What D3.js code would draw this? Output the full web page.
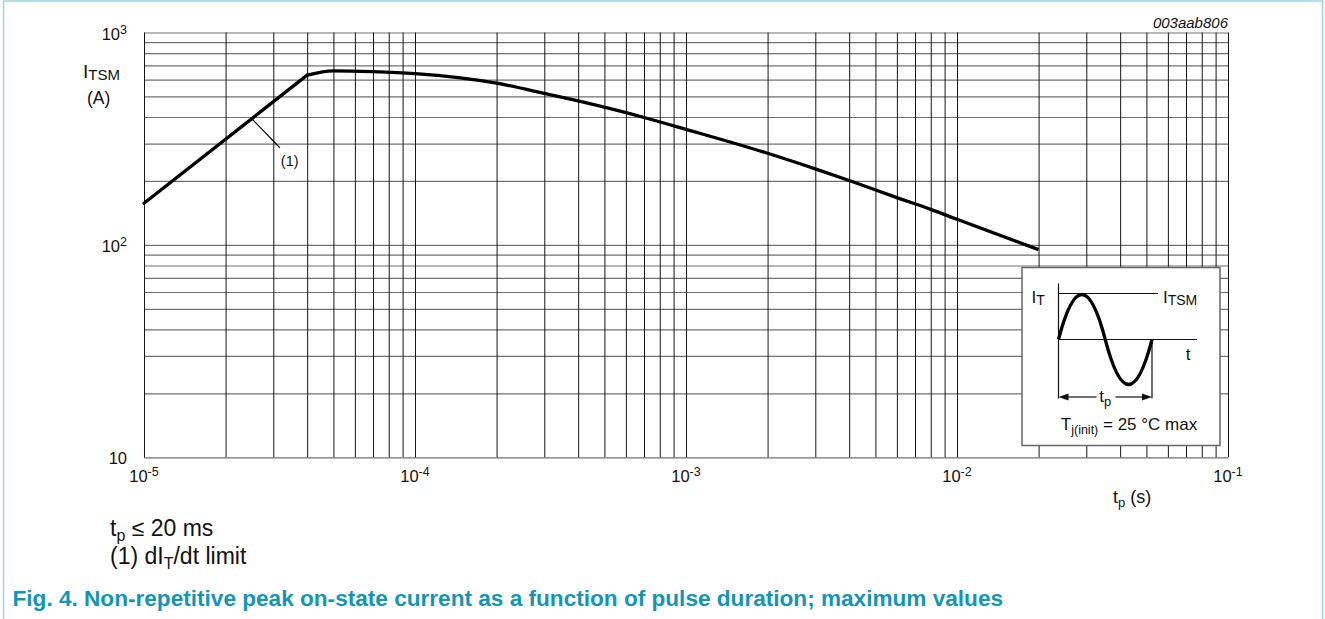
<!DOCTYPE html>
<html lang="en">
<head>
<meta charset="utf-8">
<title>ITSM vs tp</title>
<script src="https://cdn.jsdelivr.net/npm/d3@7/dist/d3.min.js"></script>
<style type="text/css">
  body { margin: 0; background: #ffffff; }
  svg { display: block; font-family: "Liberation Sans", Arial, sans-serif; }
  .vgrid line { stroke: #151515; stroke-width: 1; }
  .hgrid line { stroke: #707070; stroke-width: 1.2; }
  .tick_label { font-size: 16.5px; fill: #111; }
  .note { font-size: 23px; fill: #111; }
  .caption { font-size: 22.6px; font-weight: bold; fill: #1396b4; }
</style>
</head>
<body>
<script type="text/javascript">
// pulse duration tp (s) and peak current ITSM (A)
var tpLimit = [1e-5, 4e-5];               // dI/dt limited part (straight)
var itsmLimit = [157, 630];
var tpCurve = [4e-5, 5e-5, 7e-5, 1e-4, 2e-4, 3e-4, 4e-4, 7e-4, 1e-3, 2e-3, 3e-3, 4e-3, 6e-3, 8e-3, 1e-2, 2e-2];
var itsmCurve = [630, 660, 654, 640, 577, 517, 476, 398, 350, 270, 228, 201, 167, 147, 132, 95];

var xDecades = [-5, -4, -3, -2, -1];      // tick labels 10^n
var yDecades = [1, 2, 3];
var annotT = 2.5e-5;                      // where the "(1)" leader touches the curve

var svgWidth = 1325, svgHeight = 619;
var plotLeft = 144, plotRight = 1228, plotTop = 32.5, plotBottom = 457.3;

var svg = d3.select("body").append("svg")
    .attr("width", svgWidth)
    .attr("height", svgHeight);

// light frame around the figure
svg.append("rect")
    .attr("x", 3.5).attr("y", 1)
    .attr("width", 1319).attr("height", 700)
    .attr("fill", "none")
    .attr("stroke", "#9fd3de")
    .attr("stroke-width", 1.5);

var x = d3.scaleLog().domain([1e-5, 1e-1]).range([plotLeft, plotRight]);
var y = d3.scaleLog().domain([10, 1000]).range([plotBottom, plotTop]);

// every 1..9 multiple inside each decade
var xGridVals = [];
xDecades.forEach(function(e, i) {
  var d = Math.pow(10, e);
  if (i < xDecades.length - 1) {
    for (var m = 1; m < 10; m++) xGridVals.push(m * d);
  } else {
    xGridVals.push(d);
  }
});
var yGridVals = [];
yDecades.forEach(function(e, i) {
  var d = Math.pow(10, e);
  if (i < yDecades.length - 1) {
    for (var m = 1; m < 10; m++) yGridVals.push(m * d);
  } else {
    yGridVals.push(d);
  }
});

// horizontal grid (grey)
svg.append("g")
    .attr("class", "hgrid")
    .attr("transform", "translate(" + plotLeft + ",0)")
    .call(d3.axisLeft(y).tickValues(yGridVals).tickSize(-(plotRight - plotLeft)).tickFormat(""))
    .call(function(g) { g.select(".domain").remove(); });

// vertical grid (black)
svg.append("g")
    .attr("class", "vgrid")
    .attr("transform", "translate(0," + plotBottom + ")")
    .call(d3.axisBottom(x).tickValues(xGridVals).tickSize(-(plotBottom - plotTop)).tickFormat(""))
    .call(function(g) { g.select(".domain").remove(); });

// curve
var line = d3.line()
    .x(function(d) { return x(d[0]); })
    .y(function(d) { return y(d[1]); });

svg.append("path")
    .datum(tpLimit.map(function(t, i) { return [t, itsmLimit[i]]; }))
    .attr("d", line.curve(d3.curveLinear))
    .attr("fill", "none")
    .attr("stroke", "#000")
    .attr("stroke-width", 3.3)
    .attr("stroke-linecap", "round");

svg.append("path")
    .datum(tpCurve.map(function(t, i) { return [t, itsmCurve[i]]; }))
    .attr("d", line.curve(d3.curveMonotoneX))
    .attr("fill", "none")
    .attr("stroke", "#000")
    .attr("stroke-width", 3.3)
    .attr("stroke-linejoin", "round");

// annotation (1)
var ax = x(annotT), ay = y(itsmLimit[0] * annotT / tpLimit[0]);
svg.append("line")
    .attr("x1", ax).attr("y1", ay)
    .attr("x2", ax + 28).attr("y2", ay + 29)
    .attr("stroke", "#000").attr("stroke-width", 1.2);
svg.append("text")
    .attr("x", ax + 29).attr("y", ay + 47)
    .attr("font-size", "14.5px").attr("fill", "#111")
    .text("(1)");

// x tick labels 10^n
xDecades.forEach(function(e) {
  var t = svg.append("text")
      .attr("class", "tick_label")
      .attr("x", x(Math.pow(10, e)))
      .attr("y", 482)
      .attr("text-anchor", "middle");
  t.append("tspan").text("10");
  t.append("tspan").attr("font-size", "12.5px").attr("dy", -6).text(e);
});

// y tick labels
yDecades.forEach(function(e) {
  var t = svg.append("text")
      .attr("class", "tick_label")
      .attr("x", 127)
      .attr("y", y(Math.pow(10, e)) + 7)
      .attr("text-anchor", "end");
  t.append("tspan").text("10");
  if (e > 1) t.append("tspan").attr("font-size", "12.5px").attr("dy", -6).text(e);
});

// axis titles
var yt = svg.append("text").attr("x", 83).attr("y", 77.5).attr("fill", "#111");
yt.append("tspan").attr("font-size", "19px").text("I");
yt.append("tspan").attr("font-size", "15px").attr("dy", 2).text("TSM");
svg.append("text").attr("x", 87).attr("y", 104)
    .attr("font-size", "17.5px").attr("fill", "#111").text("(A)");

var xt = svg.append("text").attr("x", 1113).attr("y", 503).attr("fill", "#111");
xt.append("tspan").attr("font-size", "18px").text("t");
xt.append("tspan").attr("font-size", "13px").attr("dy", 4).text("p");
xt.append("tspan").attr("font-size", "18px").attr("dy", -4).text(" (s)");

svg.append("text")
    .attr("x", plotRight).attr("y", 28)
    .attr("text-anchor", "end")
    .attr("font-size", "15px").attr("font-style", "italic").attr("fill", "#111")
    .text("003aab806");

// inset: waveform definition
var inset = svg.append("g").attr("transform", "translate(1022,267.5)");
inset.append("rect")
    .attr("width", 198).attr("height", 178)
    .attr("fill", "#fff").attr("stroke", "#666").attr("stroke-width", 1.5);

var ox = 36.5, oy = 72, per = 93.5, amp = 45;
inset.append("line").attr("x1", ox).attr("y1", 16).attr("x2", ox).attr("y2", oy)
    .attr("stroke", "#111").attr("stroke-width", 1.2);
inset.append("line").attr("x1", ox).attr("y1", oy - amp - 1).attr("x2", 136).attr("y2", oy - amp - 1)
    .attr("stroke", "#111").attr("stroke-width", 1.2);
inset.append("line").attr("x1", ox).attr("y1", oy).attr("x2", 175).attr("y2", oy)
    .attr("stroke", "#111").attr("stroke-width", 1.2);
[ox, ox + per].forEach(function(vx) {
  inset.append("line").attr("x1", vx).attr("y1", oy).attr("x2", vx).attr("y2", 131)
      .attr("stroke", "#111").attr("stroke-width", 1.2);
});

// one sine period as two bezier humps
var p = d3.path();
var h = per / 2, k = amp * 4 / 3;
p.moveTo(ox, oy);
p.bezierCurveTo(ox + h / 3, oy - k, ox + 2 * h / 3, oy - k, ox + h, oy);
p.bezierCurveTo(ox + h + h / 3, oy + k, ox + h + 2 * h / 3, oy + k, ox + per, oy);
inset.append("path").attr("d", p.toString())
    .attr("fill", "none").attr("stroke", "#000").attr("stroke-width", 3.3);

// tp arrows
var ay2 = 129.5;
inset.append("line").attr("x1", ox + 8).attr("y1", ay2).attr("x2", ox + 38).attr("y2", ay2)
    .attr("stroke", "#111").attr("stroke-width", 1.2);
inset.append("line").attr("x1", ox + 57).attr("y1", ay2).attr("x2", ox + per - 8).attr("y2", ay2)
    .attr("stroke", "#111").attr("stroke-width", 1.2);
inset.append("path")
    .attr("d", "M" + ox + "," + ay2 + "l10,-3.5l0,7z").attr("fill", "#111");
inset.append("path")
    .attr("d", "M" + (ox + per) + "," + ay2 + "l-10,-3.5l0,7z").attr("fill", "#111");

var tpl = inset.append("text").attr("x", ox + per / 2).attr("y", 134).attr("text-anchor", "middle").attr("fill", "#111");
tpl.append("tspan").attr("font-size", "17px").text("t");
tpl.append("tspan").attr("font-size", "13px").attr("dy", 4).text("p");

var itl = inset.append("text").attr("x", 9.5).attr("y", 35.5).attr("fill", "#111");
itl.append("tspan").attr("font-size", "17px").text("I");
itl.append("tspan").attr("font-size", "14px").attr("dy", 2).text("T");

var itsml = inset.append("text").attr("x", 141).attr("y", 35.5).attr("fill", "#111");
itsml.append("tspan").attr("font-size", "17px").text("I");
itsml.append("tspan").attr("font-size", "14px").attr("dy", 2).text("TSM");

inset.append("text").attr("x", 166).attr("y", 92).attr("text-anchor", "middle")
    .attr("font-size", "17px").attr("fill", "#111").text("t");

var tj = inset.append("text").attr("x", 107).attr("y", 162).attr("text-anchor", "middle").attr("fill", "#111");
tj.append("tspan").attr("font-size", "17px").text("T");
tj.append("tspan").attr("font-size", "12.5px").attr("dy", 4).text("j(init)");
tj.append("tspan").attr("font-size", "17px").attr("dy", -4).text(" = 25 °C max");

// notes under the chart
var n1 = svg.append("text").attr("class", "note").attr("x", 110).attr("y", 536);
n1.append("tspan").text("t");
n1.append("tspan").attr("font-size", "16px").attr("dy", 5).text("p");
n1.append("tspan").attr("dy", -5).text(" ≤ 20 ms");

var n2 = svg.append("text").attr("class", "note").attr("x", 110).attr("y", 564);
n2.append("tspan").text("(1) dI");
n2.append("tspan").attr("font-size", "16px").attr("dy", 5).text("T");
n2.append("tspan").attr("dy", -5).text("/dt limit");

svg.append("text").attr("class", "caption").attr("x", 12.5).attr("y", 606)
    .text("Fig. 4. Non-repetitive peak on-state current as a function of pulse duration; maximum values");
</script>
</body>
</html>
